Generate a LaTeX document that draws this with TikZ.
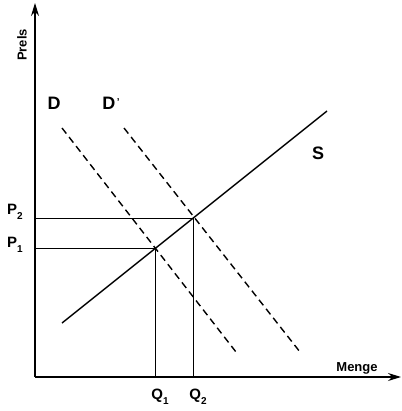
\documentclass[tikz,border=0pt]{standalone}
\usepackage{fontspec}
\setmainfont{Liberation Sans}
\usetikzlibrary{arrows.meta}
\begin{document}
\begin{tikzpicture}[x=1pt,y=-1pt,
  axis/.style={line width=1.3pt,-{Stealth[length=13pt,width=8pt]}},
  curve/.style={line width=1.4pt},
  dcurve/.style={line width=1.4pt,dash pattern=on 7pt off 4.5pt},
  guide/.style={line width=0.8pt},
  lbl/.style={font=\bfseries\fontsize{18}{18}\selectfont,inner sep=0pt},
  slbl/.style={font=\bfseries\fontsize{15}{15}\selectfont,inner sep=0pt},
  albl/.style={font=\bfseries\fontsize{13}{13}\selectfont,inner sep=0pt}]
\useasboundingbox (0,0) rectangle (401,411);
\coordinate (O) at (35,377);
\coordinate (ytop) at (35,3);
\coordinate (xend) at (401,377);
\draw[axis] (O) -- (ytop);
\draw[axis] (O) -- (xend);
\node[albl,rotate=90] (prels) at (22,45) {Prels};
\node[albl] (menge) at (357,368) {Menge};
% curves
\coordinate (s1) at (62,323);
\coordinate (s2) at (327,111);
\draw[curve] (s1) -- (s2);
\coordinate (d1) at (62,128);
\coordinate (d2) at (236,352);
\draw[dcurve] (d1) -- (d2);
\coordinate (dd1) at (124,128);
\coordinate (dd2) at (300,352);
\draw[dcurve] (dd1) -- (dd2);
\node[lbl] (D) at (54,103) {D};
\node[lbl] (Dp) at (111,103) {D\raisebox{4pt}{\fontsize{10}{10}\selectfont\,'}};
\node[lbl] (S) at (318,153) {S};
% equilibrium points
\coordinate (e1) at (155,248);
\coordinate (e2) at (193,218);
\coordinate (p1) at (35,248);
\coordinate (p2) at (35,218);
\coordinate (q1) at (155,377);
\coordinate (q2) at (193,377);
\draw[guide] (p1) -- (e1) -- (q1);
\draw[guide] (p2) -- (e2) -- (q2);
\node[slbl] (P2) at (15,212) {P\raisebox{-5pt}{\fontsize{10}{10}\selectfont 2}};
\node[slbl] (P1) at (15,245) {P\raisebox{-5pt}{\fontsize{10}{10}\selectfont 1}};
\node[slbl] (Q1) at (160,397) {Q\raisebox{-5pt}{\fontsize{10}{10}\selectfont 1}};
\node[slbl] (Q2) at (198,397) {Q\raisebox{-5pt}{\fontsize{10}{10}\selectfont 2}};
\end{tikzpicture}
\end{document}
